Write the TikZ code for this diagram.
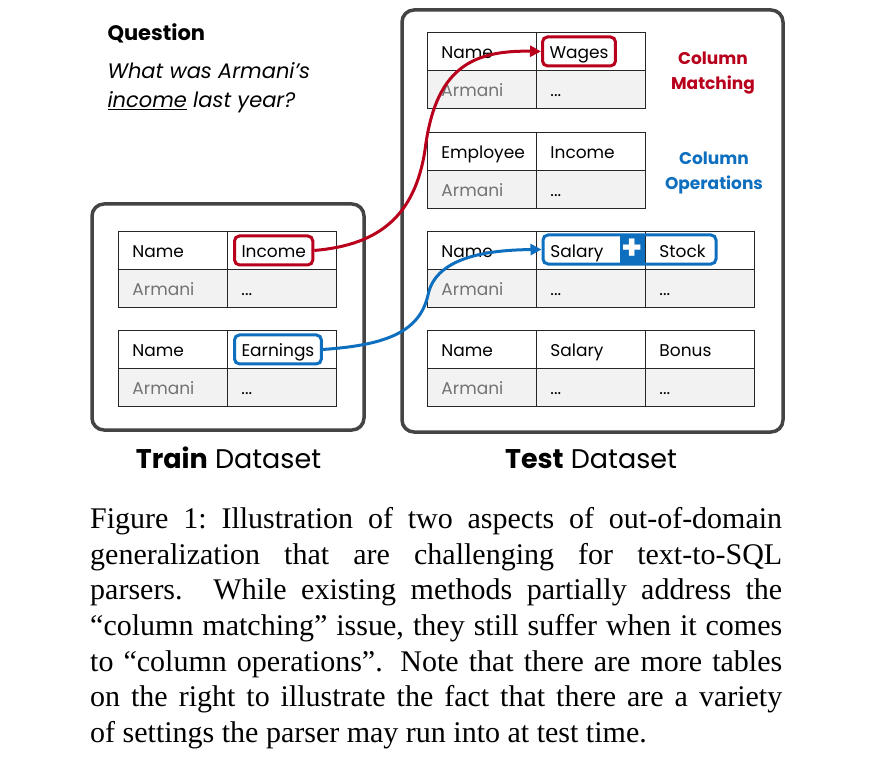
\documentclass[tikz,border=0pt]{standalone}
\usepackage{fontspec}
\setmainfont{Poppins}
\newfontfamily\capfont{Liberation Serif}
\usetikzlibrary{arrows.meta}
\definecolor{matchred}{RGB}{184,0,28}
\definecolor{opblue}{RGB}{14,111,191}
\definecolor{boxgray}{RGB}{68,68,68}
\begin{document}
\begin{tikzpicture}[x=1pt,y=-1pt]
        % Define styles
        \tikzset{
            dataset/.style={draw=boxgray, line width=3.5pt, rounded corners=12pt},
            hcell/.style={draw=black!85, line width=0.9pt, fill=white, anchor=north west,
                minimum height=38pt, text width=81pt, inner xsep=14pt, inner ysep=0pt,
                text height=14pt, text depth=0pt, align=left, font=\fontsize{17}{20}\selectfont},
            bcell/.style={hcell, fill=black!5},
            gcell/.style={bcell, text=black!55},
            hilite/.style={line width=3pt, rounded corners=5pt, anchor=west, minimum height=29pt,
                inner xsep=7pt, inner ysep=0pt, text height=14pt, text depth=0pt,
                font=\fontsize{17}{20}\selectfont},
            redbox/.style={hilite, draw=matchred},
            bluebox/.style={hilite, draw=opblue},
            link/.style={line width=3pt, -{Triangle[length=11pt,width=11pt]}},
            aspect/.style={font=\fontsize{17}{25}\selectfont\bfseries, align=center},
            setname/.style={font=\fontsize{27}{30}\selectfont, anchor=base}
        }
        \useasboundingbox (0,0) rectangle (896,767);
        % Question
        \node[anchor=base west, font=\fontsize{21}{24}\selectfont\bfseries] (qhead) at (104,41) {Question};
        \node[anchor=base west, font=\fontsize{21}{24}\selectfont\itshape] (qline1) at (104,79) {What was Armani’s};
        \node[anchor=base west, font=\fontsize{21}{24}\selectfont\itshape] (qline2) at (104,108) {\underline{income} last year?};
        % Train dataset
        \draw[dataset] (92,204) rectangle (364,430);
        \node[hcell] (trAn) at (118,231) {Name};
        \node[hcell] (trAc) at (227,231) {};
        \node[gcell] (trAa) at (118,269) {Armani};
        \node[bcell] (trAd) at (227,269) {{.}{.}{.}};
        \node[redbox] (trIncome) at ([xshift=6pt]trAc.west) {Income};
        \node[hcell] (trBn) at (118,330) {Name};
        \node[hcell] (trBc) at (227,330) {};
        \node[gcell] (trBa) at (118,368) {Armani};
        \node[bcell] (trBd) at (227,368) {{.}{.}{.}};
        \node[bluebox] (trEarnings) at ([xshift=6pt]trBc.west) {Earnings};
        \node[setname] (trainname) at (228.5,468) {\textbf{Train} Dataset};
        % Test dataset
        \draw[dataset] (402,10) rectangle (783,432);
        \node[hcell] (teAn) at (427,32) {Name};
        \node[hcell] (teAc) at (536,32) {};
        \node[gcell] (teAa) at (427,70) {Armani};
        \node[bcell] (teAd) at (536,70) {{.}{.}{.}};
        \node[redbox] (teWages) at ([xshift=5pt]teAc.west) {Wages};
        \node[hcell] (teBn) at (427,132) {Employee};
        \node[hcell] (teBc) at (536,132) {Income};
        \node[gcell] (teBa) at (427,170) {Armani};
        \node[bcell] (teBd) at (536,170) {{.}{.}{.}};
        % Salary + Stock
        \node[hcell] (teCn) at (427,231) {Name};
        \node[hcell] (teCs) at (536,231) {Salary};
        \node[hcell] (teCt) at (645,231) {Stock};
        \node[gcell] (teCa) at (427,269) {Armani};
        \node[bcell] (teCd) at (536,269) {{.}{.}{.}};
        \node[bcell] (teCe) at (645,269) {{.}{.}{.}};
        \node[fill=opblue, text=white, minimum width=25pt, minimum height=29pt, inner sep=0pt,
            font=\fontsize{34}{34}\selectfont\bfseries] (tePlus) at (632.5,249.5) {+};
        \node[bluebox, anchor=center, minimum width=173pt] (teSum) at (629.5,249.5) {};
        \node[hcell] (teDn) at (427,330) {Name};
        \node[hcell] (teDs) at (536,330) {Salary};
        \node[hcell] (teDb) at (645,330) {Bonus};
        \node[gcell] (teDa) at (427,368) {Armani};
        \node[bcell] (teDd) at (536,368) {{.}{.}{.}};
        \node[bcell] (teDe) at (645,368) {{.}{.}{.}};
        \node[setname] (testname) at (591,468) {\textbf{Test} Dataset};
        % Aspect labels
        \node[aspect, text=matchred] (matching) at (713,73) {Column\\Matching};
        \node[aspect, text=opblue] (operations) at (714,173) {Column\\Operations};
        % Links from train to test
        \draw[link, matchred] (trIncome.east) .. controls (380,245) and (415,215) .. (425,150)
            .. controls (435,70) and (470,50) .. (teWages.west);
        \draw[link, opblue] (trEarnings.east) .. controls (390,345) and (420,330) .. (428,295)
            .. controls (435,260) and (480,250) .. (teSum.west);
        % Caption
        \node[anchor=north west, inner sep=0pt, text width=692pt, align=justify,
            font=\capfont\fontsize{30}{35.7}\selectfont] (caption) at (90,507)
            {Figure 1:\ Illustration of two aspects of out-of-domain\linebreak
            generalization that are challenging for text-to-SQL\linebreak
            parsers. While existing methods partially address the\linebreak
            “column matching” issue, they still suffer when it comes\linebreak
            to “column operations”. Note that there are more tables\linebreak
            on the right to illustrate the fact that there are a variety\linebreak
            of settings the parser may run into at test time.};
\end{tikzpicture}
\end{document}
